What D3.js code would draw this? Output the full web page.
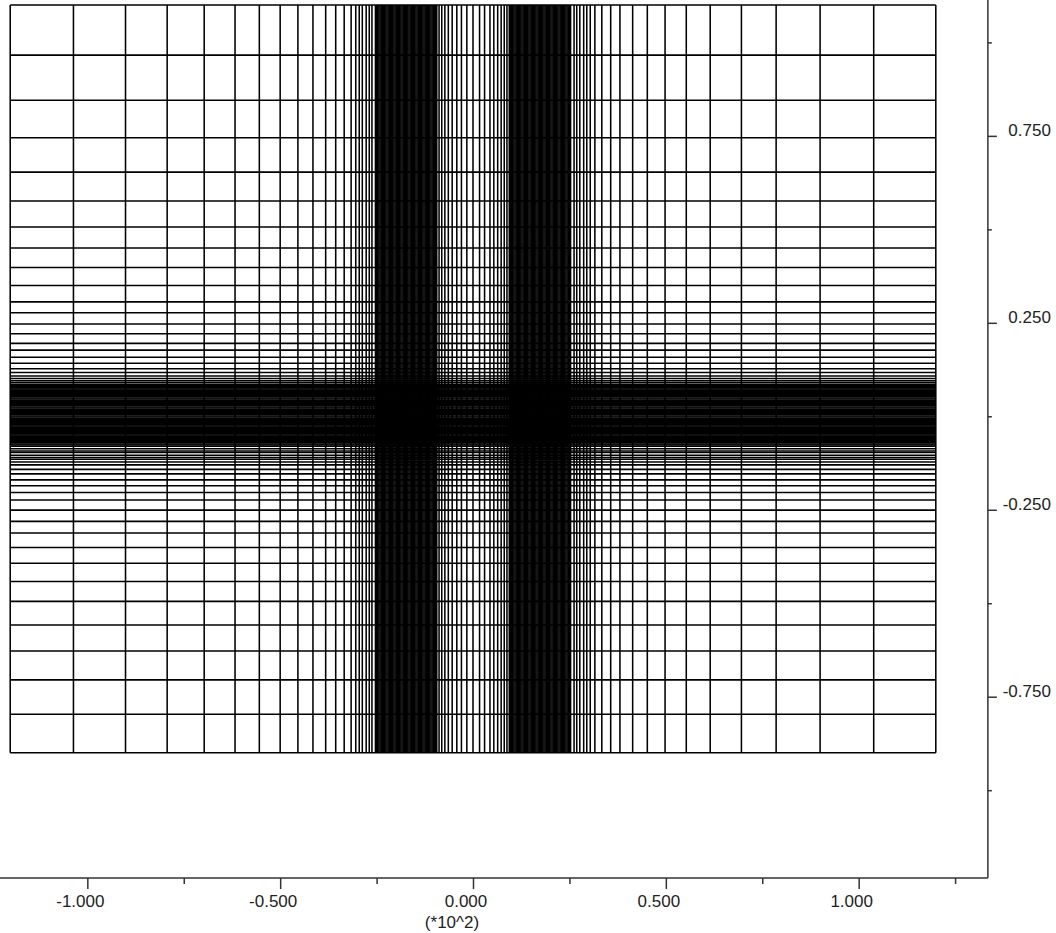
<!DOCTYPE html>
<html lang="en">
<head>
    <meta charset="UTF-8">
    <title>Graded mesh</title>
    <style>
        body { margin: 0; background: #fff; }
        .mesh line { stroke: #000; stroke-width: 1.55px; }
        .axis path { display: none; }
        .axis line, .axis-line { stroke: #333; stroke-width: 1.5px; }
        .axis text, .unit {
          font-family: "Liberation Sans", Arial, sans-serif;
          font-size: 17px;
          fill: #222;
        }
    </style>
</head>
<body>
    <svg width="1056" height="933"></svg>
    <script src="https://d3js.org/d3.v7.min.js"></script>
    <script>
        // mesh line positions, x in units of 10^2
        const xOuterLeft = [-1.200, -1.036, -0.901, -0.793, -0.697, -0.617, -0.554, -0.500, -0.454, -0.415,
                            -0.382, -0.356, -0.334, -0.316, -0.304, -0.295, -0.287, -0.277, -0.269, -0.262];
        const xBandLeft = [-0.253, -0.250, -0.247, -0.244, -0.241, -0.238, -0.235, -0.232, -0.229, -0.226,
                           -0.223, -0.220, -0.217, -0.214, -0.211, -0.208, -0.205, -0.202, -0.199, -0.196,
                           -0.193, -0.190, -0.187, -0.184, -0.181, -0.178, -0.175, -0.172, -0.169, -0.166,
                           -0.163, -0.160, -0.157, -0.154, -0.151, -0.148, -0.145, -0.142, -0.139, -0.136,
                           -0.133, -0.130, -0.127, -0.124, -0.121, -0.118, -0.115, -0.112, -0.109, -0.106,
                           -0.103, -0.100, -0.097, -0.094];
        const xCenter = [-0.088, -0.081, -0.073, -0.064, -0.054, -0.042, -0.030, -0.016, 0.000,
                         0.017, 0.030, 0.044, 0.054, 0.064, 0.073, 0.081, 0.088];
        const xBandRight = [0.094, 0.097, 0.100, 0.103, 0.106, 0.109, 0.112, 0.115, 0.118, 0.121,
                            0.124, 0.127, 0.130, 0.133, 0.136, 0.139, 0.142, 0.145, 0.148, 0.151,
                            0.154, 0.157, 0.160, 0.163, 0.166, 0.169, 0.172, 0.175, 0.178, 0.181,
                            0.184, 0.187, 0.190, 0.193, 0.196, 0.199, 0.202, 0.205, 0.208, 0.211,
                            0.214, 0.217, 0.220, 0.223, 0.226, 0.229, 0.232, 0.235, 0.238, 0.241,
                            0.244, 0.247, 0.250, 0.253];
        const xOuterRight = [0.262, 0.269, 0.277, 0.287, 0.295, 0.304, 0.316, 0.334, 0.357, 0.381,
                             0.414, 0.452, 0.498, 0.553, 0.615, 0.696, 0.786, 0.900, 1.039, 1.200];

        const yOuterTop = [1.100, 0.966, 0.845, 0.745, 0.653, 0.576, 0.506, 0.450, 0.398, 0.350,
                           0.306, 0.277, 0.247, 0.221, 0.195, 0.177, 0.158, 0.142, 0.127, 0.117,
                           0.108, 0.101, 0.095, 0.090];
        const yBand = [0.085, 0.082, 0.079, 0.076, 0.073, 0.070, 0.067, 0.064, 0.061, 0.058,
                       0.055, 0.052, 0.049, 0.046, 0.043, 0.040, 0.037, 0.034, 0.031, 0.028,
                       0.025, 0.022, 0.019, 0.016, 0.013, 0.010, 0.007, 0.004, 0.001, -0.002,
                       -0.005, -0.008, -0.011, -0.014, -0.017, -0.020, -0.023, -0.026, -0.029, -0.032,
                       -0.035, -0.038, -0.041, -0.044, -0.047, -0.050, -0.053, -0.056, -0.059, -0.062,
                       -0.065, -0.068, -0.071, -0.074, -0.077, -0.080];
        const yOuterBottom = [-0.087, -0.093, -0.097, -0.104, -0.110, -0.115, -0.122, -0.130, -0.142, -0.154,
                              -0.170, -0.186, -0.204, -0.224, -0.251, -0.281, -0.312, -0.351, -0.393, -0.442,
                              -0.495, -0.558, -0.628, -0.705, -0.797, -0.900];

        // axis ticks
        const xMajorTicks = [-1.0, -0.5, 0.0, 0.5, 1.0];
        const xMinorTicks = [-0.75, -0.25, 0.25, 0.75, 1.25];
        const yMajorTicks = [0.75, 0.25, -0.25, -0.75];
        const yMinorTicks = [1.0, 0.5, 0.0, -0.5, -1.0];
        const xAxisExtent = [-1.25, 1.335];
        const yAxisExtent = [-1.235, 1.12];
        const xUnitLabel = "(*10^2)";

        const xLines = [].concat(xOuterLeft, xBandLeft, xCenter, xBandRight, xOuterRight);
        const yLines = [].concat(yOuterTop, yBand, yOuterBottom);

        const svg = d3.select("svg");

        const x = d3.scaleLinear().domain([-1.2, 1.2]).range([10.2, 935.8]);
        const y = d3.scaleLinear().domain([-0.9, 1.1]).range([752.8, 5]);

        const xMin = d3.min(xLines), xMax = d3.max(xLines);
        const yMin = d3.min(yLines), yMax = d3.max(yLines);

        const mesh = svg.append("g").attr("class", "mesh");

        mesh.selectAll("line.v")
            .data(xLines)
            .enter().append("line")
            .attr("class", "v")
            .attr("x1", d => x(d)).attr("x2", d => x(d))
            .attr("y1", y(yMax)).attr("y2", y(yMin));

        mesh.selectAll("line.h")
            .data(yLines)
            .enter().append("line")
            .attr("class", "h")
            .attr("y1", d => y(d)).attr("y2", d => y(d))
            .attr("x1", x(xMin)).attr("x2", x(xMax));

        // axes
        const axisY0 = y(yAxisExtent[0]);   // bottom axis position
        const axisX1 = x(xAxisExtent[1]);   // right axis position

        svg.append("line").attr("class", "axis-line")
            .attr("x1", x(xAxisExtent[0])).attr("x2", axisX1)
            .attr("y1", axisY0).attr("y2", axisY0);
        svg.append("line").attr("class", "axis-line")
            .attr("x1", axisX1).attr("x2", axisX1)
            .attr("y1", y(yAxisExtent[1])).attr("y2", axisY0);

        svg.append("g").attr("class", "axis")
            .attr("transform", "translate(0," + axisY0 + ")")
            .call(d3.axisBottom(x).tickValues(xMinorTicks).tickSize(6).tickFormat(""));

        const xAx = svg.append("g").attr("class", "axis")
            .attr("transform", "translate(0," + axisY0 + ")")
            .call(d3.axisBottom(x).tickValues(xMajorTicks).tickSize(11).tickFormat(d3.format(".3f")));
        xAx.selectAll("text")
            .attr("dy", null)
            .attr("y", 29)
            .attr("dx", -7.5)
            .text(d => d3.format(".3f")(d).replace("\u2212", "-"));

        svg.append("text").attr("class", "unit")
            .attr("x", x(0) - 21)
            .attr("y", axisY0 + 50)
            .attr("text-anchor", "middle")
            .text(xUnitLabel);

        svg.append("g").attr("class", "axis")
            .attr("transform", "translate(" + axisX1 + ",0)")
            .call(d3.axisRight(y).tickValues(yMinorTicks).tickSize(4).tickFormat(""));

        const yAx = svg.append("g").attr("class", "axis")
            .attr("transform", "translate(" + axisX1 + ",0)")
            .call(d3.axisRight(y).tickValues(yMajorTicks).tickSize(9));
        yAx.selectAll("text")
            .attr("dy", null)
            .attr("x", 63)
            .attr("y", 0)
            .attr("text-anchor", "end")
            .text(d => d3.format(".3f")(d).replace("\u2212", "-"));
    </script>
</body>
</html>
